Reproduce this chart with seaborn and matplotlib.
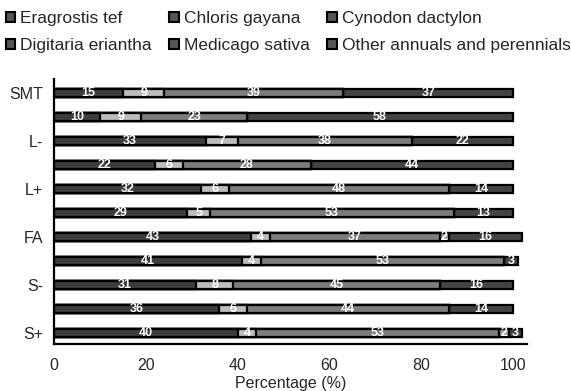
import numpy as np
import pandas as pd
import matplotlib
matplotlib.use("Agg")
import matplotlib.pyplot as plt
from matplotlib.patches import Patch
import seaborn as sns

row_labels = ["SMT", "", "L-", "", "L+", "", "FA", "", "S-", "", "S+"]
species = ["Eragrostis tef", "Chloris gayana", "Cynodon dactylon",
           "Digitaria eriantha", "Medicago sativa", "Other annuals and perennials"]
eragrostis = [15, 10, 33, 22, 32, 29, 43, 41, 31, 36, 40]
chloris    = [9, 9, 7, 6, 6, 5, 4, 4, 8, 6, 4]
cynodon    = [39, 23, 38, 28, 48, 53, 37, 53, 45, 44, 53]
digitaria  = [0, 0, 0, 0, 0, 0, 0, 0, 0, 0, 0]
medicago   = [0, 0, 0, 0, 0, 0, 2, 0, 0, 0, 2]
other      = [37, 58, 22, 44, 14, 13, 16, 3, 16, 14, 3]
xticks = [0, 20, 40, 60, 80, 100]

series = [eragrostis, chloris, cynodon, digitaria, medicago, other]
colors = ["#3d3d3d", "#bdbdbd", "#7c7c7c", "#5a5a5a", "#a0a0a0", "#444444"]

sns.set_style("white")
plt.rcParams["font.family"] = ["Liberation Sans", "DejaVu Sans"]

fig = plt.figure(figsize=(5.71, 3.91), dpi=100)
ax = fig.add_axes([0.0946, 0.120, 0.8284, 0.678])

row_ids = [f"r{i}" for i in range(len(row_labels))]
vals = np.array(series, dtype=float)
cum = np.cumsum(vals, axis=0)

for k in range(len(series) - 1, -1, -1):
    df = pd.DataFrame({"row": row_ids, "x": cum[k]})
    sns.barplot(data=df, x="x", y="row", orient="h", color=colors[k],
                saturation=1, edgecolor="black", linewidth=1.6,
                width=0.34, ax=ax)

for k in range(len(series)):
    for i in range(len(row_ids)):
        v = vals[k, i]
        if v > 0:
            ax.text(cum[k, i] - v / 2, i, f"{int(v)}", ha="center", va="center",
                    color="white", fontsize=9, fontweight="bold")

ax.set_xlim(0, 103)
ax.set_ylim(10.46, -0.58)
ax.set_xticks(xticks)
ax.set_xticklabels([str(t) for t in xticks], fontsize=11.5)
ax.set_yticks(range(len(row_labels)))
ax.set_yticklabels(row_labels, fontsize=11.5)
ax.set_xlabel("Percentage (%)", fontsize=11.5, labelpad=2)
ax.set_ylabel("")
for s in ["top", "right"]:
    ax.spines[s].set_visible(False)
for s in ["left", "bottom"]:
    ax.spines[s].set_color("black")
    ax.spines[s].set_linewidth(1.6)
ax.tick_params(axis="x", direction="out", length=4, width=1.2, color="black", pad=6)
ax.tick_params(axis="y", length=0, pad=8)

handles = [Patch(facecolor="#555555", edgecolor="black", linewidth=1.5) for _ in species]
order = [0, 3, 1, 4, 2, 5]
fig.legend([handles[i] for i in order], [species[i] for i in order],
           loc="upper left", bbox_to_anchor=(0.01, 0.972), ncol=3, frameon=False,
           fontsize=12.5, handlelength=0.55, handleheight=0.55, handletextpad=0.3,
           columnspacing=1.0, labelspacing=0.7, borderpad=0, borderaxespad=0)

fig.savefig("out.png", dpi=100)
